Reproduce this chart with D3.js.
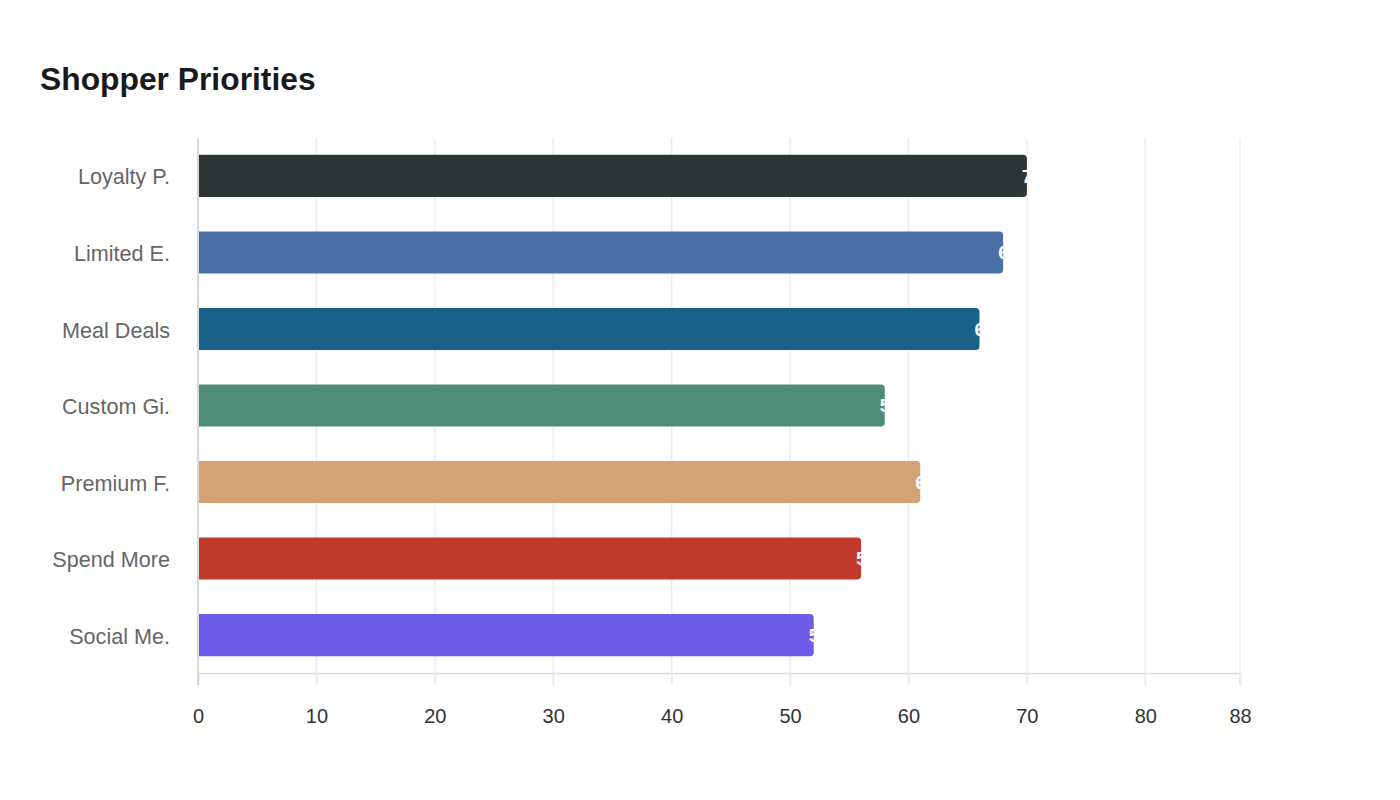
<!DOCTYPE html>
<html><head><meta charset="utf-8">
<script src="https://cdn.jsdelivr.net/npm/d3@7"></script>
<style>body{margin:0;background:#fff;} svg text{font-family:"Liberation Sans",Arial,sans-serif;}</style>
</head><body><svg id="c" width="1400" height="800"></svg>
<script>
const categories = ["Loyalty P.","Limited E.","Meal Deals","Custom Gi.","Premium F.","Spend More","Social Me."];
const values = [70, 68, 66, 58, 61, 56, 52];
const colors = ["#2d3436","#4a6fa5","#18628a","#4f8c7a","#d4a373","#c0392b","#6c5ce7"];
const tickValues = [0,10,20,30,40,50,60,70,80,88];
const xMax = 88;

const svg = d3.select("#c");
const L = 198, R = 1240, T = 138, B = 673;
const x = d3.scaleLinear().domain([0, xMax]).range([L, R]);
const y = d3.scaleBand().domain(categories).range([T, B]).paddingInner(0.45).paddingOuter(0.22);

svg.append("text").attr("x", 40).attr("y", 90).text("Shopper Priorities")
  .attr("font-size", 31.8).attr("font-weight", "bold").attr("fill", "#1a1a1a");

// grid
svg.append("g").selectAll("line").data(tickValues.filter(d => d > 0)).join("line")
  .attr("x1", d => x(d)).attr("x2", d => x(d)).attr("y1", T).attr("y2", B + 12)
  .attr("stroke", "#ebebeb").attr("stroke-width", 1.5);

// x axis
const xAxis = svg.append("g").attr("transform", `translate(0,${B})`)
  .call(d3.axisBottom(x).tickValues(tickValues).tickSize(12).tickPadding(24).tickFormat(d3.format("d")));
xAxis.select(".domain").attr("stroke", "#dddddd").attr("stroke-width", 1.5);
xAxis.selectAll(".tick line").attr("stroke", "#ebebeb").attr("stroke-width", 1.5);
xAxis.selectAll(".tick text").attr("font-size", 20).attr("fill", "#333").attr("font-family", null);

// left line
svg.append("line").attr("x1", L).attr("x2", L).attr("y1", T).attr("y2", B + 12)
  .attr("stroke", "#cccccc").attr("stroke-width", 1.5);

// category labels
svg.append("g").selectAll("text").data(categories).join("text")
  .attr("x", 170).attr("y", d => y(d) + y.bandwidth() / 2 + 1).attr("dy", "0.35em")
  .attr("text-anchor", "end").attr("font-size", 21.6).attr("fill", "#666").text(d => d);

// bars with rounded right corners
const r = 4;
function barPath(v, c) {
  const x0 = x(0) + 1, x1 = x(v), y0 = y(c), h = y.bandwidth();
  return `M${x0},${y0}H${x1 - r}Q${x1},${y0} ${x1},${y0 + r}V${y0 + h - r}Q${x1},${y0 + h} ${x1 - r},${y0 + h}H${x0}Z`;
}
svg.append("g").selectAll("path").data(categories).join("path")
  .attr("d", (c, i) => barPath(values[i], c))
  .attr("fill", (c, i) => colors[i]);

// value labels (white, starting just inside bar end)
svg.append("g").selectAll("text").data(categories).join("text")
  .attr("x", (c, i) => x(values[i]) - 5).attr("y", c => y(c) + y.bandwidth() / 2).attr("dy", "0.35em")
  .attr("font-size", 19).attr("font-weight", "bold").attr("fill", "#fff")
  .text((c, i) => values[i]);
</script></body></html>
